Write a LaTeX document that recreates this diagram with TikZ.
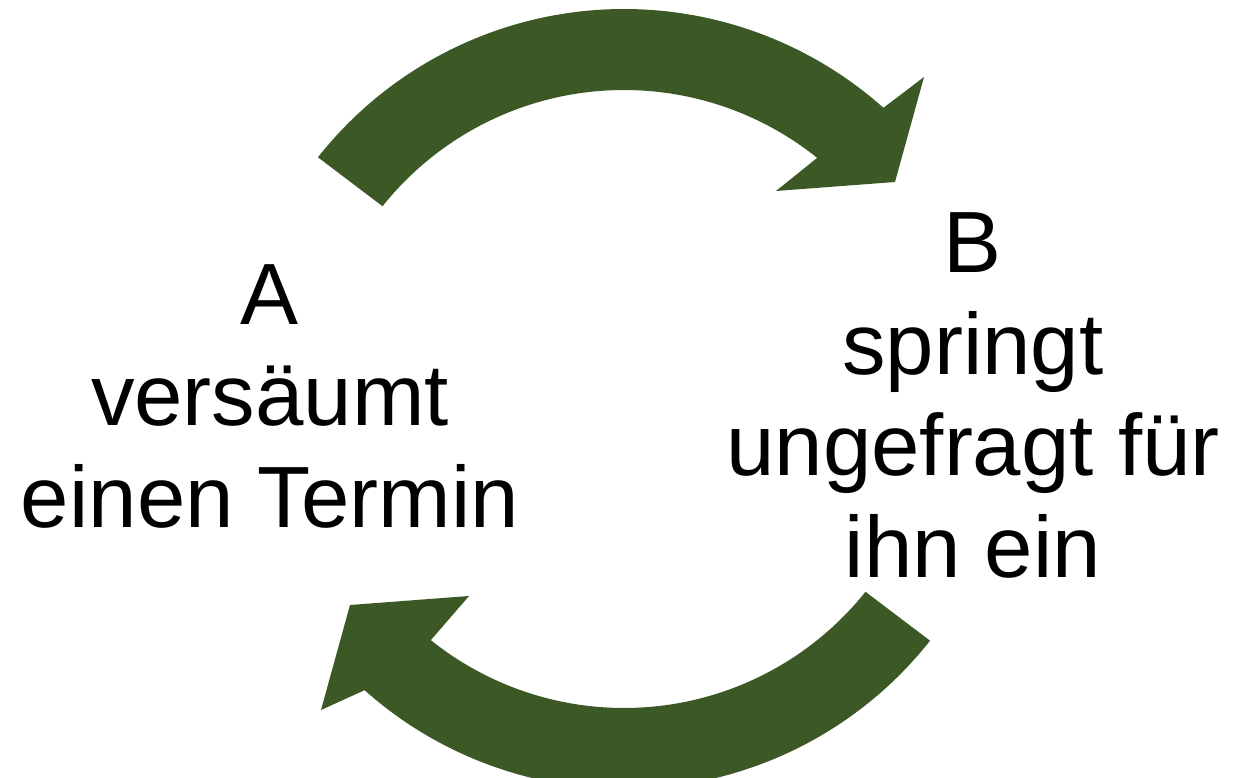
\documentclass[tikz,border=0pt]{standalone}
\usepackage{fontspec}
\setmainfont{Liberation Sans}
\usetikzlibrary{calc}
\definecolor{arrowgreen}{RGB}{59,88,37}
\begin{document}
\begin{tikzpicture}[x=1pt,y=1pt,
  cyclearrow/.style={fill=arrowgreen, draw=none},
  biglabel/.style={font=\fontsize{87}{101.5}\selectfont, align=center, inner sep=0pt, text=black}]
\useasboundingbox (0,0) rectangle (1233,777);
\coordinate (ctop) at (624,378);
\coordinate (pivot) at (622.5,383.5);
\path[cyclearrow] ($(ctop)+(141.7:390)$) arc[start angle=141.7, end angle=48.3, radius=390pt]
  -- (924,700) -- (895,595) -- (776,586) -- ($(ctop)+(51.3:309)$)
  arc[start angle=51.3, end angle=141.4, radius=309pt] -- cycle;
\begin{scope}[rotate around={180:(pivot)}]
\path[cyclearrow] ($(ctop)+(141.7:390)$) arc[start angle=141.7, end angle=48.3, radius=390pt]
  -- (924,700) -- (895,595) -- (776,586) -- ($(ctop)+(51.3:309)$)
  arc[start angle=51.3, end angle=141.4, radius=309pt] -- cycle;
\end{scope}
\node[biglabel, anchor=base] (a) at (270,250) {A\\versäumt\\einen Termin};
\node[biglabel, anchor=base] (b) at (973,200) {B\\springt\\ungefragt für\\ihn ein};
\end{tikzpicture}
\end{document}
